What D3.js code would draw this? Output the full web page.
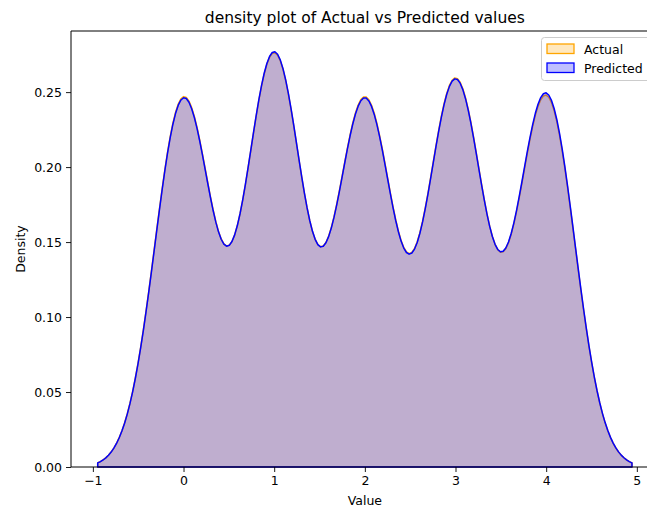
<!DOCTYPE html>
<html>
<head>
<meta charset="utf-8">
<script src="https://cdn.jsdelivr.net/npm/d3@7"></script>
<style>
  html, body { margin: 0; padding: 0; background: #fff; }
  svg { display: block; font-family: "DejaVu Sans", sans-serif; }
</style>
</head>
<body>
<svg id="chart" width="647" height="510"></svg>
<script>
// Observed class values and the share of samples at each value
const classValues = [0, 1, 2, 3, 4];
const actualShares = [0.1937, 0.2158, 0.1924, 0.2025, 0.1946];
const predictedShares = [0.1931, 0.2163, 0.1918, 0.2020, 0.1958];
// Gaussian kernel bandwidth of each density estimate
const bandwidths = { Actual: 0.3155, Predicted: 0.3155 };

const seriesNames = ["Actual", "Predicted"];
const seriesColors = ["orange", "blue"];
const xTicks = [-1, 0, 1, 2, 3, 4, 5];
const yTicks = [0, 0.05, 0.10, 0.15, 0.20, 0.25];

const svg = d3.select("#chart");
const margin = { left: 71, top: 31, bottom: 43 };
const plotRight = 658.7;
const H = 510;

// Kernel density estimate evaluated on a 200-point grid, cut at 3 bandwidths
function kde(values, weights, bw) {
  const total = d3.sum(weights);
  const lo = d3.min(values) - 3 * bw, hi = d3.max(values) + 3 * bw;
  const n = 200;
  const norm = 1 / (bw * Math.sqrt(2 * Math.PI));
  return d3.range(n).map(i => {
    const x = lo + (hi - lo) * i / (n - 1);
    let y = 0;
    values.forEach((v, k) => {
      const z = (x - v) / bw;
      y += weights[k] / total * norm * Math.exp(-0.5 * z * z);
    });
    return [x, y];
  });
}

const curves = [
  kde(classValues, actualShares, bandwidths.Actual),
  kde(classValues, predictedShares, bandwidths.Predicted)
];

// Axis limits with 5% padding around the data, y starting at zero
const allX = curves.flat().map(d => d[0]);
const allY = curves.flat().map(d => d[1]);
const [xMin, xMax] = d3.extent(allX);
const xPad = (xMax - xMin) * 0.05;
const yTop = d3.max(allY) * 1.05;

const x = d3.scaleLinear().domain([xMin - xPad, xMax + xPad]).range([margin.left, plotRight]);
const y = d3.scaleLinear().domain([0, yTop]).range([H - margin.bottom, margin.top]);

const area = d3.area().x(d => x(d[0])).y0(y(0)).y1(d => y(d[1]));

// Filled densities with their outlines (closed polygon like a fill_between edge)
curves.forEach((c, i) => {
  const path = area(c);
  svg.append("path")
    .attr("d", path + "Z")
    .attr("fill", seriesColors[i])
    .attr("fill-opacity", 0.25)
    .attr("stroke", seriesColors[i])
    .attr("stroke-width", 1.5)
    .attr("stroke-linejoin", "round");
});

// Axes
const xAxis = d3.axisBottom(x).tickValues(xTicks).tickSize(5).tickPadding(4)
  .tickFormat(d => d < 0 ? "\u2212" + Math.abs(d) : String(d));
const yAxis = d3.axisLeft(y).tickValues(yTicks).tickSize(5).tickPadding(4)
  .tickFormat(d3.format(".2f"));

const gx = svg.append("g").attr("transform", `translate(0,${y(0)})`).call(xAxis);
const gy = svg.append("g").attr("transform", `translate(${margin.left},0)`).call(yAxis);
[gx, gy].forEach(g => {
  g.select(".domain").remove();
  g.selectAll("text").attr("font-size", 12.5).attr("fill", "#000").attr("font-family", "DejaVu Sans");
  g.selectAll("line").attr("stroke", "#000").attr("stroke-width", 0.9);
});

// Spines
const spine = svg.append("g").attr("stroke", "#000").attr("stroke-width", 1).attr("fill", "none");
spine.append("line").attr("x1", margin.left).attr("x2", margin.left).attr("y1", y(yTop)).attr("y2", y(0));
spine.append("line").attr("x1", margin.left).attr("x2", plotRight).attr("y1", y(0)).attr("y2", y(0));
spine.append("line").attr("x1", margin.left).attr("x2", plotRight).attr("y1", y(yTop)).attr("y2", y(yTop));
spine.append("line").attr("x1", plotRight).attr("x2", plotRight).attr("y1", y(yTop)).attr("y2", y(0));

// Title and axis labels
svg.append("text")
  .attr("x", (margin.left + plotRight) / 2).attr("y", 23)
  .attr("text-anchor", "middle").attr("font-size", 15.5)
  .text("density plot of Actual vs Predicted values");
svg.append("text")
  .attr("x", (margin.left + plotRight) / 2).attr("y", 505)
  .attr("text-anchor", "middle").attr("font-size", 12.5)
  .text("Value");
svg.append("text")
  .attr("transform", `translate(25,${(y(0) + y(yTop)) / 2}) rotate(-90)`)
  .attr("text-anchor", "middle").attr("font-size", 12.5)
  .text("Density");

// Legend
const lg = svg.append("g").attr("transform", "translate(541,37)");
lg.append("rect").attr("x", 0.5).attr("y", 0.5).attr("width", 125).attr("height", 43)
  .attr("rx", 3).attr("fill", "#fff").attr("fill-opacity", 0.8)
  .attr("stroke", "#ccc").attr("stroke-width", 1);
seriesNames.forEach((name, i) => {
  const row = lg.append("g").attr("transform", `translate(6,${7 + i * 19})`);
  row.append("rect").attr("x", 0).attr("y", 0).attr("width", 27).attr("height", 9.5)
    .attr("fill", seriesColors[i]).attr("fill-opacity", 0.25)
    .attr("stroke", seriesColors[i]).attr("stroke-width", 1.3);
  row.append("text").attr("x", 37).attr("y", 9.5).attr("font-size", 12.5).text(name);
});
</script>
</body>
</html>
